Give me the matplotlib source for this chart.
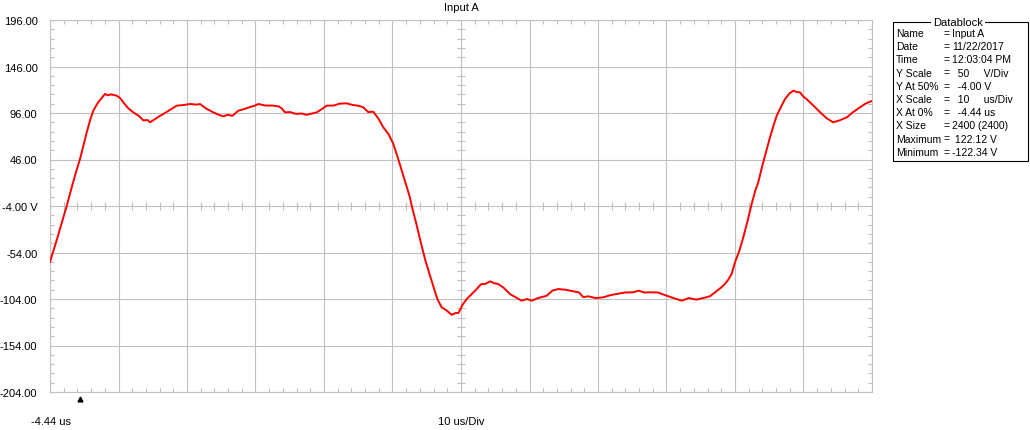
import numpy as np
import matplotlib
matplotlib.use('Agg')
import matplotlib.pyplot as plt
import matplotlib.transforms as mtransforms

# Trace (time in us, amplitude in V)
t_us = [-4.44, -3.6, -2.8, -2.0, -1.2, -0.5, -0.06, 0.5, 0.92, 1.4, 1.88, 2.3, 2.61,
        3.1, 3.59, 4.0, 4.5, 5.3, 5.8, 6.26, 7.0, 7.72, 8.5, 9.2, 9.8, 10.16, 10.8,
        11.4, 12.1, 13.0, 14.06, 15.0, 16.0, 17.0, 17.46, 18.3, 19.4, 20.2, 20.86,
        21.5, 22.2, 23.05, 23.8, 24.6, 25.5, 25.97, 27.0, 28.0, 29.0, 29.38, 29.87,
        30.6, 31.5, 32.3, 33.0, 33.5, 34.5, 35.2, 35.95, 37.0, 37.8, 38.87, 39.8,
        40.5, 41.3, 42.0, 42.76, 43.5, 44.22, 45.0, 45.68, 46.4, 47.2, 48.1, 48.36,
        49.0, 49.57, 50.3, 51.0, 51.5, 52.1, 52.74, 53.4, 54.2, 54.8, 55.2, 55.8,
        56.4, 56.87, 57.85, 58.5, 59.06, 59.8, 60.4, 61.0, 61.8, 62.7, 63.5, 64.4,
        65.2, 65.88, 66.8, 68.07, 68.9, 69.77, 70.8, 71.96, 72.8, 73.4, 74.15, 75.2,
        76.33, 77.3, 78.28, 79.5, 80.7, 81.5, 82.3, 83.15, 84.3, 85.6, 86.6, 87.8,
        88.8, 89.96, 90.9, 91.9, 92.8, 93.85, 94.5, 95.07, 95.56, 96.2, 96.77, 97.4,
        97.99, 98.5, 98.96, 99.5, 99.94, 100.67, 101.2, 101.65, 102.3, 102.86, 103.5,
        104.1, 104.6, 105.05, 105.5, 106.0, 107.0, 108.0, 109.0, 109.9, 110.8, 111.9,
        112.8, 113.8, 114.6, 115.56]
volts = [-64, -44, -24, -4, 18, 36, 46.5, 63, 75, 88, 98.5, 104, 107.5,
         112, 116.5, 115, 116, 114.6, 112, 107.5, 101, 96.7, 93, 88, 88.5, 86, 89,
         92, 94.9, 99, 103.9, 104.5, 105.7, 105, 105.7, 101, 96.7, 94, 92.4,
         94, 93, 98.5, 100, 102, 104, 105.7, 104, 104, 103, 101, 96.7,
         97, 95, 95.5, 94, 94.9, 96.7, 100, 103.9, 104, 106, 106.4, 104.5,
         104, 102.1, 97, 97.4, 90, 80.6, 73, 62.7, 46.5, 27, 5.3, -3.7,
         -22, -39.5, -61, -78, -89.7, -104, -113, -116, -121, -119, -119, -110,
         -104, -100.5, -93.3, -88, -87.9, -85, -87, -87.9, -92, -98.6, -102, -105.8,
         -104, -105.8, -103, -100.5, -95, -93.3, -94, -95.8, -97, -102, -101.1, -103,
         -102.2, -100, -98.6, -97, -96.8, -95, -97, -96.8, -97, -100.5, -103, -105.8,
         -103, -104.7, -103, -101.1, -96, -89.7, -84, -77.1, -64.5, -52, -37.7, -20,
         -1.8, 12, 21.5, 38, 50.1, 69.9, 83, 93.1, 103, 111, 117,
         120, 118.5, 118.2, 114, 111, 104, 96.7, 90, 86, 88, 91.4,
         97, 102.1, 106, 109]

y_ticks = [196, 146, 96, 46, -4, -54, -104, -154, -204]
y_labels = ['196.00', '146.00', '96.00', '46.00', '-4.00 V', '-54.00', '-104.00', '-154.00', '-204.00']

x_start = -4.44
us_per_div = 10
n_div = 12
trigger_t = 0.0

datablock_keys = ['Name', 'Date', 'Time', 'Y Scale', 'Y At 50%', 'X Scale',
                  'X At 0%', 'X Size', 'Maximum', 'Minimum']
datablock_vals = ['Input A', '11/22/2017', '12:03:04 PM', '  50     V/Div', '  -4.00 V',
                  '  10     us/Div', '  -4.44 us', '2400 (2400)', ' 122.12 V', '-122.34 V']

plt.rcParams['font.family'] = ['Liberation Sans', 'DejaVu Sans']
grid_c = '#c0c0c0'
W, H = 1030, 431
fig = plt.figure(figsize=(W / 100, H / 100), dpi=100)
ax = fig.add_axes([50 / W, (H - 393) / H, 822 / W, 372 / H])

x_end = x_start + n_div * us_per_div
ax.set_xlim(x_start, x_end)
ax.set_ylim(-204, 196)

x_major = [x_start + i * us_per_div for i in range(n_div + 1)]
x_minor = [x_start + i * us_per_div / 5 for i in range(n_div * 5 + 1)]
y_minor = list(np.arange(-204, 196.1, 10))

ax.set_xticks(x_major)
ax.set_xticklabels([])
ax.set_xticks(x_minor, minor=True)
ax.set_yticks(y_ticks)
ax.set_yticklabels(y_labels, fontsize=8)
ax.set_yticks(y_minor, minor=True)
ax.tick_params(which='major', length=0, pad=9)
ax.tick_params(which='minor', direction='in', length=3.2, width=0.8, color=grid_c,
               top=True, right=True, bottom=True, left=True)
ax.grid(True, which='major', color=grid_c, linewidth=0.8)
for s in ax.spines.values():
    s.set_color(grid_c)
    s.set_linewidth(0.8)

# centre cross ticks
x_mid = x_start + n_div / 2 * us_per_div
ax.plot(x_minor, [-4] * len(x_minor), linestyle='none', marker='|', markersize=6,
        markeredgewidth=0.8, color=grid_c, zorder=1)
ax.plot([x_mid] * len(y_minor), y_minor, linestyle='none', marker='_', markersize=6,
        markeredgewidth=0.8, color=grid_c, zorder=1)

ax.plot(t_us, volts, color='#ff0000', linewidth=1.4, zorder=3)

# trigger marker under the axis
trans = mtransforms.blended_transform_factory(ax.transData, ax.transAxes)
ax.plot([trigger_t], [-0.018], marker='^', markersize=3.5, color='black',
        transform=trans, clip_on=False)

fig.text(461 / W, 1 - 8 / H, 'Input A', ha='center', va='center', fontsize=8)
fig.text(51 / W, 1 - 422 / H, '-4.44 us', ha='center', va='center', fontsize=8)
fig.text(461 / W, 1 - 422 / H, '10 us/Div', ha='center', va='center', fontsize=8)

# datablock box
bx0, bx1, by0, by1 = 893, 1028, 23, 162
box = plt.Rectangle((bx0 / W, 1 - by1 / H), (bx1 - bx0) / W, (by1 - by0) / H,
                    transform=fig.transFigure, fill=False, edgecolor='black', linewidth=0.8)
fig.patches.append(box)
fig.text(958 / W, 1 - by0 / H, 'Datablock', ha='center', va='center', fontsize=8,
         bbox=dict(facecolor='white', edgecolor='none', pad=1.5))
for i, (lab, val) in enumerate(zip(datablock_keys, datablock_vals)):
    yy = 1 - (34 + i * 13.2) / H
    fig.text(896 / W, yy, lab, ha='left', va='center', fontsize=7.5)
    fig.text(944 / W, yy, '=', ha='left', va='center', fontsize=7.5)
    fig.text(952 / W, yy, val, ha='left', va='center', fontsize=7.5)

fig.savefig('out.png', dpi=100)
